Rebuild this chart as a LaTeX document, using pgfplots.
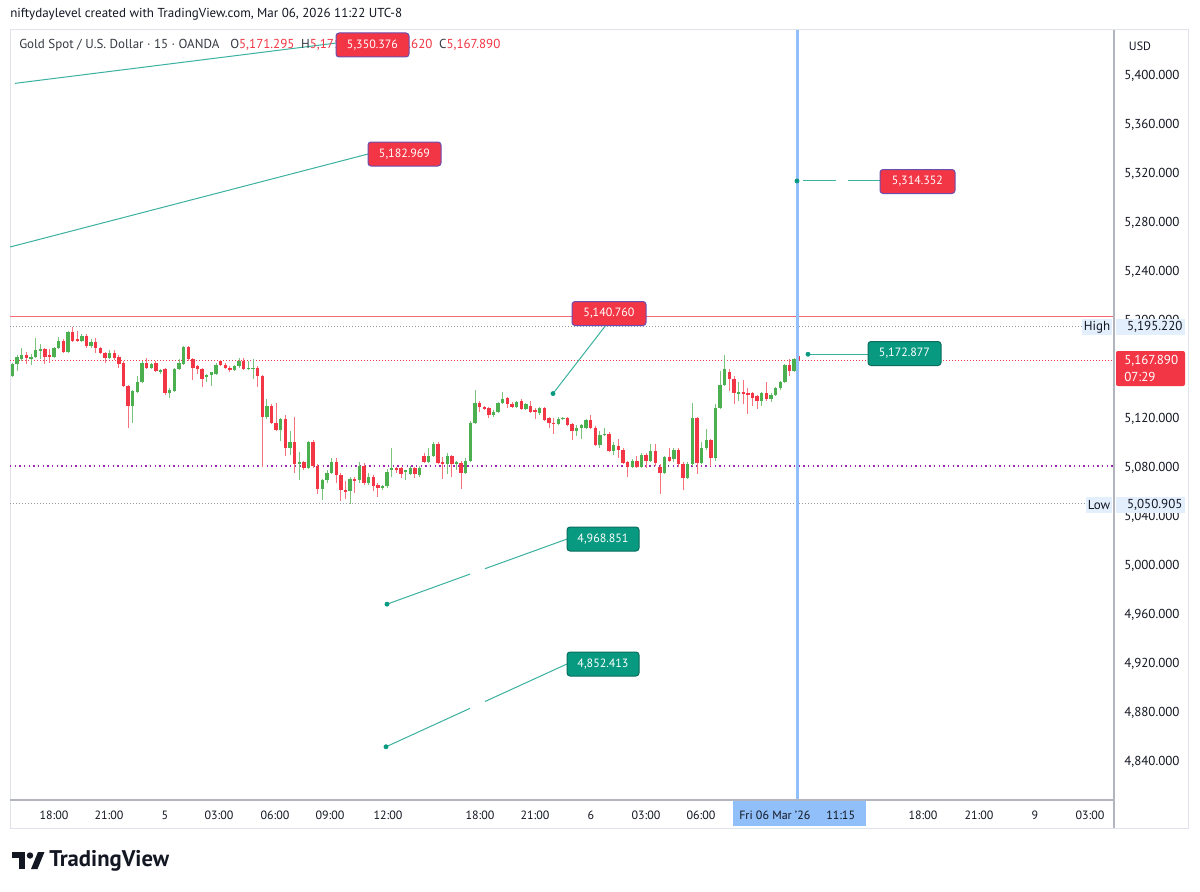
\documentclass[border=0pt]{standalone}
\usepackage{pgfplots}
\usepackage{pgfplotstable}
\pgfplotsset{compat=1.18}
\usepackage{fontspec}
\setmainfont{PT Sans}
\definecolor{up}{HTML}{4CAF50}
\definecolor{dn}{HTML}{F23645}
\definecolor{tvgreen}{HTML}{089981}
\definecolor{tvline}{HTML}{3BB1A0}
\definecolor{tvblue}{HTML}{90BFF9}
\definecolor{tvtext}{HTML}{131722}
\definecolor{tvgray}{HTML}{B2B5BE}
\definecolor{dotgray}{HTML}{9598A1}
\definecolor{tvpurple}{HTML}{9C27B0}
\definecolor{tagblue}{HTML}{E3EFFD}
\definecolor{frame}{HTML}{E0E3EB}
\definecolor{rborder}{HTML}{6A4FB0}
\definecolor{gborder}{HTML}{0B6E5E}

% 15-minute candles, left to right
\pgfplotstableread{
O H L C
5155 5166 5154 5165
5165 5172 5159 5171
5169 5178 5167 5172
5172 5175 5165 5170
5169 5173 5164 5171
5171 5186 5170 5176
5176 5181 5169 5177
5177 5178 5165 5171
5172 5177 5166 5171
5171 5179 5170 5178
5178 5187 5177 5184
5184 5185 5174 5175
5175 5192 5174 5191
5191 5195.2 5183 5184
5185 5192 5183 5184
5184 5189 5183 5188
5188 5189 5178 5180
5180 5185 5178 5183
5183 5186 5174 5178
5178 5179 5173 5174
5174 5175 5166 5170
5170 5176 5169 5174
5174 5176 5168 5170
5171 5172 5162 5165
5166 5167 5146 5147
5147 5147.5 5113 5131
5131 5144 5117 5143
5142 5155 5141 5150
5150 5167 5149 5166
5166 5170 5161 5162
5162 5166 5161 5165
5166 5167 5158 5159
5159 5161 5157 5160
5161 5162 5140 5141
5141 5145 5137 5144
5143 5162 5142 5161
5161 5169 5160 5166
5165 5180 5164 5179
5179 5180 5167 5169
5169 5170 5152 5162
5163 5164 5157 5161
5161 5162 5146 5153
5154 5157 5150 5156
5156 5158 5147 5158
5157 5166 5156 5164
5167 5168 5163 5164
5164 5166 5161 5162
5162 5163 5158 5160
5160 5164 5159 5163
5163 5170 5162 5167
5167 5170 5160 5161
5161 5167 5160 5161.5
5161 5169 5153 5162
5162 5163 5146 5155
5155 5156 5081 5122
5122 5136 5120 5131
5131 5132 5116 5117
5117 5133 5110 5111
5111 5121 5102 5120
5120 5123 5090 5096
5096 5110 5091 5101
5101 5122 5076 5083
5083 5093 5070 5085
5085 5086 5078 5080
5080 5102 5079 5101
5101 5103 5080 5082
5082 5083 5059 5063
5063 5071 5054 5070
5070 5078 5068 5076
5076 5088 5075 5085
5085 5088 5068 5074
5074 5076 5053 5062
5062 5069 5055 5061
5061 5073 5050.9 5071
5071 5073 5060 5070
5070 5085 5068 5082
5082 5084 5066 5068
5068 5076 5066 5073
5073 5074 5061 5065
5066 5068 5056 5064
5064 5066 5062 5065
5065 5079 5064 5077
5078 5096 5073 5080
5080 5081 5076 5079
5080 5081 5072 5075
5077 5078 5070 5078
5075 5082 5074 5080
5080 5081 5072 5075
5074 5082 5073 5080
5090 5092 5084 5085
5085 5096 5084 5090
5090 5101 5089 5100
5100 5101 5083 5084
5085 5089 5071 5083
5083 5092 5075 5090
5090 5091 5073 5083
5083 5086 5078 5085
5084 5086 5063 5076
5076 5088 5075 5086
5086 5118 5085 5117
5117 5144 5116 5133
5133 5135 5126 5130
5130 5131 5127 5128
5129 5130 5121 5123
5123 5127 5122 5126
5126 5134 5125 5133
5133 5142 5132 5136
5137 5138 5129 5132
5132 5134 5129 5130
5130 5135 5129 5134
5135 5136 5127 5128
5128 5133 5127 5132
5131 5135 5125 5126
5127 5129 5120 5126
5125 5130 5123 5129
5129 5130 5118 5119
5121 5122 5113 5117
5117 5121 5108 5116
5116 5122 5115 5120
5120 5122 5119 5121
5121 5122 5114 5115
5116 5117 5103 5110
5110 5115 5106 5113
5113 5116 5104 5115
5113 5120 5112 5119
5119 5123 5112 5113
5113 5114 5098 5099
5099 5110 5096 5107
5107 5113 5106 5108
5108 5109 5093 5094
5094 5101 5091 5099
5098 5104 5088 5095
5095 5096 5083 5084
5085 5086 5073 5081
5081 5087 5080 5086
5086 5090 5080 5081
5081 5092 5080 5091
5091 5092 5080 5086
5086 5100 5085 5094
5094 5100 5082 5084
5081 5083 5059 5076
5076 5090 5075 5089
5089 5096 5085 5086
5087 5096 5085 5095
5095 5096 5081 5083
5083 5085 5062 5072
5072 5085 5071 5083
5083 5133 5082 5121
5121 5122 5075 5084
5084 5101 5083 5096
5096 5112 5095 5103
5103 5104 5082 5088
5088 5132 5086 5129
5129 5159 5128 5148
5148 5172 5147 5161
5158 5161 5143 5153
5153 5155 5132 5141
5141 5150 5135 5142
5142 5152 5132 5141
5141 5145 5124 5140
5141 5142 5131 5137
5139 5140 5128 5135
5135 5142 5131 5141
5141 5150 5135 5136
5136 5141 5134 5140
5140 5146 5139 5145
5145 5151 5144 5150
5150 5165 5149 5164
5164 5169 5155 5159
5159 5170 5158 5169
5171.295 5171.6 5167.6 5167.89
}\candles
\pgfplotstablecreatecol[expr={\pgfplotstablerow}]{i}{\candles}

\tikzset{
  px/.style={x=0.75pt, y=-0.75pt},
  lab/.style={rounded corners=2.25pt, minimum height=18pt, inner sep=0pt,
    text=white, font=\fontsize{9pt}{10pt}\selectfont, line width=0.75pt},
  rlab/.style={lab, fill=dn, draw=rborder},
  glab/.style={lab, fill=tvgreen, draw=gborder},
  tag/.style={fill=tagblue, inner sep=0pt, minimum height=12pt, text=tvtext,
    font=\fontsize{9.75pt}{11pt}\selectfont}
}
\pgfplotsset{
  candle/.style 2 args={forget plot, only marks, mark=*, mark options={opacity=0},
    error bars/.cd, y dir=both, y explicit, error mark=none,
    error bar style={line width=#1, color=#2}},
}

\begin{document}
\begin{tikzpicture}
\begin{scope}[px]
\path[use as bounding box, fill=white] (0,0) rectangle (1200,892);
\draw[frame, line width=0.75pt] (10,30) rectangle (1188,828);
\end{scope}

\begin{axis}[
  at={(7.5pt,-600pt)}, anchor=south west,
  scale only axis, width=828pt, height=577.5pt,
  xmin=10, xmax=1114, ymin=4808.98, ymax=5437.55,
  axis line style={draw=none},
  major tick length=0pt,
  ytick={4840,4880,...,5400},
  yticklabel pos=right,
  yticklabel style={anchor=west, inner sep=0pt, xshift=7.5pt, text=tvtext,
    font=\fontsize{9.75pt}{11pt}\selectfont,
    /pgf/number format/.cd, fixed, fixed zerofill, precision=3,
    1000 sep={,}, assume math mode=true},
  xtick={54,109,165,219,275,330,388,480,535,591,646,701,923,979,1035,1090},
  xticklabels={18:00,21:00,5,03:00,06:00,09:00,12:00,18:00,21:00,6,03:00,06:00,18:00,21:00,9,03:00},
  xticklabel style={anchor=base, inner sep=0pt, yshift=-14.25pt, text=tvtext,
    font=\fontsize{9pt}{10pt}\selectfont},
]
% price lines
\addplot[forget plot, color=dn!75, line width=0.75pt] coordinates {(10,5203.3) (1114,5203.3)};
\addplot[forget plot, color=dotgray, line width=0.75pt, dash pattern=on 0.75pt off 1.5pt] coordinates {(10,5195.22) (1082,5195.22)};
\addplot[forget plot, color=dn, line width=0.75pt, dash pattern=on 0.75pt off 1.5pt] coordinates {(10,5167.89) (1114,5167.89)};
\addplot[forget plot, color=tvpurple, line width=1.1pt, dash pattern=on 1.1pt off 2.4pt] coordinates {(10,5081.6) (1114,5081.6)};
\addplot[forget plot, color=dotgray, line width=0.75pt, dash pattern=on 0.75pt off 1.5pt] coordinates {(10,5050.905) (1086,5050.905)};

% wicks
\addplot[candle={0.75pt}{up!75!white}]
  table[x expr=12.5+4.625*\thisrow{i},
    y expr={\thisrow{C}>=\thisrow{O} ? 0.5*(\thisrow{H}+\thisrow{L}) : nan},
    y error expr={0.5*(\thisrow{H}-\thisrow{L})}] {\candles};
\addplot[candle={0.75pt}{dn!70!white}]
  table[x expr=12.5+4.625*\thisrow{i},
    y expr={\thisrow{C}<\thisrow{O} ? 0.5*(\thisrow{H}+\thisrow{L}) : nan},
    y error expr={0.5*(\thisrow{H}-\thisrow{L})}] {\candles};
% bodies
\addplot[candle={2.6pt}{up}]
  table[x expr=12.5+4.625*\thisrow{i},
    y expr={\thisrow{C}>=\thisrow{O} ? 0.5*(\thisrow{O}+\thisrow{C}) : nan},
    y error expr={max(0.5*abs(\thisrow{C}-\thisrow{O}),0.45)}] {\candles};
\addplot[candle={2.6pt}{dn}]
  table[x expr=12.5+4.625*\thisrow{i},
    y expr={\thisrow{C}<\thisrow{O} ? 0.5*(\thisrow{O}+\thisrow{C}) : nan},
    y error expr={max(0.5*abs(\thisrow{C}-\thisrow{O}),0.45)}] {\candles};

% cursor line
\addplot[forget plot, color=tvblue, line width=2.25pt] coordinates {(797.5,4808.98) (797.5,5437.55)};

% drawings
\addplot[forget plot, color=tvline, line width=0.75pt] coordinates {(15,5394.0) (336,5426.9)};
\addplot[forget plot, color=tvline, line width=0.75pt] coordinates {(10,5260.4) (368,5336.3)};
\addplot[forget plot, color=tvline, line width=0.75pt] coordinates {(803,5314.352) (836,5314.352)};
\addplot[forget plot, color=tvline, line width=0.75pt] coordinates {(848,5314.352) (880,5314.352)};
\addplot[forget plot, color=tvline, line width=0.75pt] coordinates {(553,5140.76) (606,5196.7)};
\addplot[forget plot, color=tvline, line width=0.75pt] coordinates {(808,5172.877) (868,5172.877)};
\addplot[forget plot, color=tvline, line width=0.75pt] coordinates {(387,4968.851) (470,4993.4)};
\addplot[forget plot, color=tvline, line width=0.75pt] coordinates {(485,4997.8) (567,5022.0)};
\addplot[forget plot, color=tvline, line width=0.75pt] coordinates {(386,4852.413) (470,4883.8)};
\addplot[forget plot, color=tvline, line width=0.75pt] coordinates {(485,4889.4) (567,4920.0)};
\addplot[forget plot, only marks, mark=*, mark size=1.6pt, color=tvgreen]
  coordinates {(797,5314.352) (553,5140.76) (808,5172.877) (387,4968.851) (386,4852.413)};
\end{axis}

\begin{scope}[px]
% header and legend
\node[anchor=west, inner sep=0pt, text=tvtext, font=\fontsize{9.75pt}{11pt}\selectfont]
  at (10,14) {niftydaylevel created with TradingView.com, Mar 06, 2026 11:22 UTC-8};
\node[anchor=west, inner sep=0pt, text=tvtext!85, font=\fontsize{9.75pt}{11pt}\selectfont]
  at (19,45) {Gold Spot / U.S. Dollar · 15 · OANDA};
\node[anchor=west, inner sep=0pt, text=tvtext!85, font=\fontsize{9.75pt}{11pt}\selectfont]
  at (230,45) {O\textcolor{dn}{5,171.295}\hspace{5pt}H\textcolor{dn}{5,171.590}\hspace{5pt}L\textcolor{dn}{5,167.620}\hspace{5pt}C\textcolor{dn}{5,167.890}};

% price labels of the drawings
\node[rlab, minimum width=54.75pt] at (372.5,45) {5,350.376};
\node[rlab, minimum width=54.75pt] at (404.5,154) {5,182.969};
\node[rlab, minimum width=56.25pt] at (917.5,181.5) {5,314.352};
\node[rlab, minimum width=55.5pt] at (609,313.5) {5,140.760};
\node[glab, minimum width=54.75pt] at (904.5,353.5) {5,172.877};
\node[glab, minimum width=54pt] at (603,539) {4,968.851};
\node[glab, minimum width=54pt] at (603,664) {4,852.413};

% axes frame
\draw[tvgray, line width=1.1pt] (10,800) -- (1114,800);
\draw[tvgray, line width=1.1pt] (1114,30) -- (1114,828);
\node[text=tvtext, font=\fontsize{9pt}{10pt}\selectfont] at (1140,46) {USD};

% price scale tags
\node[tag, minimum width=22.5pt] at (1097,327) {High};
\node[tag, minimum width=51.75pt, anchor=west] at (1116,327) {\hspace{6pt}5,195.220\hfill};
\node[tag, minimum width=19.5pt] at (1099,505) {Low};
\node[tag, minimum width=51.75pt, anchor=west] at (1116,505) {\hspace{6pt}5,050.905\hfill};
\fill[dn, rounded corners=1.5pt] (1116,351) rectangle (1185,386);
\node[anchor=west, inner sep=0pt, text=white, font=\fontsize{9.75pt}{11pt}\selectfont] at (1124,361) {5,167.890};
\node[anchor=west, inner sep=0pt, text=white, font=\fontsize{9.75pt}{11pt}\selectfont] at (1124,377) {07:29};

% time cursor tag
\fill[tvblue] (733,801) rectangle (866,826);
\node[anchor=base west, inner sep=0pt, text=tvtext, font=\fontsize{9pt}{10pt}\selectfont] at (739,819) {Fri 06 Mar '26};
\node[anchor=base west, inner sep=0pt, text=tvtext, font=\fontsize{9pt}{10pt}\selectfont] at (826,819) {11:15};

% logo
\fill[tvtext] (12,852) rectangle (25,858);
\fill[tvtext] (19,852) rectangle (25,869);
\fill[tvtext] (30,855.5) circle (3.2);
\fill[tvtext] (31,869) -- (37.5,869) -- (44.5,852) -- (38,852) -- cycle;
\node[anchor=west, inner sep=0pt, text=tvtext, font=\fontsize{17pt}{19pt}\selectfont\bfseries] at (49,861) {TradingView};
\end{scope}
\end{tikzpicture}
\end{document}
